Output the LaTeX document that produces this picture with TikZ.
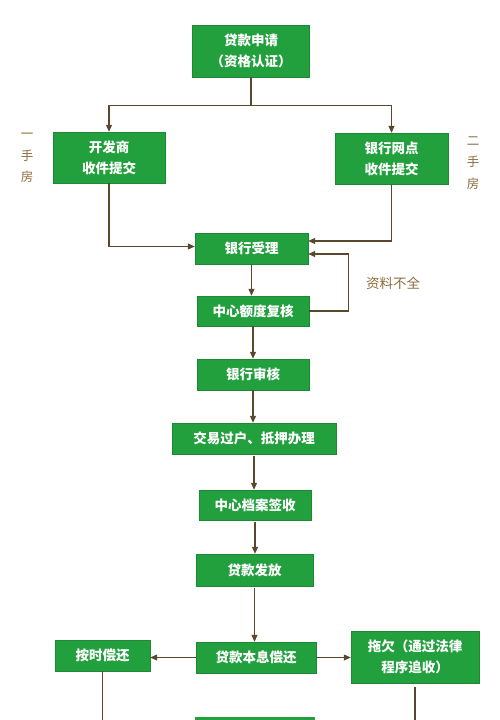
\documentclass[tikz,border=0pt]{standalone}
\usepackage{fontspec}
\newfontfamily\cjk{Noto Sans CJK SC}
\usetikzlibrary{arrows.meta}

\definecolor{boxgreen}{RGB}{35,160,62}
\definecolor{linebrown}{RGB}{90,72,45}
\definecolor{notebrown}{RGB}{140,108,60}

\tikzset{
  stepbox/.style={draw=boxgreen!85!black, fill=boxgreen, text=white,
    font=\cjk\bfseries\fontsize{13.5}{21}\selectfont, align=center, inner sep=0pt},
  line/.style={draw=linebrown, line width=1.1pt},
  link/.style={line, -{Triangle[length=7pt,width=6pt]}},
  note/.style={text=notebrown, font=\cjk\fontsize{12.5}{21.5}\selectfont, align=center}
}

\begin{document}
\begin{tikzpicture}[x=1pt,y=-1pt]
  \useasboundingbox (0,0) rectangle (500,720);
  \clip (0,0) rectangle (500,720);
  % boxes
  \node[stepbox, minimum width=117pt, minimum height=52pt] (apply) at (251,51) {贷款申请\\（资格认证）};
  \node[stepbox, minimum width=112pt, minimum height=51pt] (dev) at (109,157.5) {开发商\\收件提交};
  \node[stepbox, minimum width=113pt, minimum height=51pt] (bank) at (391.5,158.5) {银行网点\\收件提交};
  \node[stepbox, minimum width=113pt, minimum height=31pt] (accept) at (251.5,248.5) {银行受理};
  \node[stepbox, minimum width=112pt, minimum height=30pt] (review) at (253,311) {中心额度复核};
  \node[stepbox, minimum width=112pt, minimum height=31pt] (audit) at (253,374.5) {银行审核};
  \node[stepbox, minimum width=164pt, minimum height=31pt] (transfer) at (254,438.5) {交易过户、抵押办理};
  \node[stepbox, minimum width=112pt, minimum height=30pt] (archive) at (255,505) {中心档案签收};
  \node[stepbox, minimum width=117pt, minimum height=32pt] (loan) at (254.5,570) {贷款发放};
  \node[stepbox, minimum width=120pt, minimum height=31pt] (repay) at (256,657.5) {贷款本息偿还};
  \node[stepbox, minimum width=95pt, minimum height=31pt] (ontime) at (102.5,655.5) {按时偿还};
  \node[stepbox, minimum width=128pt, minimum height=52pt] (default) at (415,657) {拖欠（通过法律\\程序追收）};
  \fill[boxgreen] (195,717) rectangle (315,730);
  % side notes
  \node[note] (first) at (27,158) {一\\手\\房};
  \node[note] (second) at (473,163) {二\\手\\房};
  \node[note, font=\cjk\fontsize{13.5}{15}\selectfont] (missing) at (393,283) {资料不全};
  % connectors
  \draw[line] (apply.south) -- ++(0,28) coordinate (fork);
  \draw[link] (fork) -| (dev.north);
  \draw[link] (fork) -| (bank.north);
  \draw[link] (dev.south) |- ([yshift=2pt]accept.west);
  \draw[link] (bank.south) |- ([yshift=7.5pt]accept.east);
  \draw[link] (review.east) -- ++(39,0) |- ([yshift=-5.5pt]accept.east);
  \draw[link] (accept.south) -- (accept.south |- review.north);
  \draw[link] (review.south) -- (review.south |- audit.north);
  \draw[link] (audit.south) -- (audit.south |- transfer.north);
  \draw[link] ([yshift=-2pt]transfer.south) -- (transfer.south |- archive.north);
  \draw[link] ([yshift=-2pt]archive.south) -- (archive.south |- loan.north);
  \draw[link] ([yshift=-2pt]loan.south) -- (loan.south |- repay.north);
  \draw[link] (repay.west) -- (repay.west -| ontime.east);
  \draw[link] (repay.east) -- (repay.east -| default.west);
  \draw[line] (ontime.south) -- (ontime.south |- 0,725);
  \draw[line] ([yshift=-4pt]default.south) -- (default.south |- 0,725);
\end{tikzpicture}
\end{document}
